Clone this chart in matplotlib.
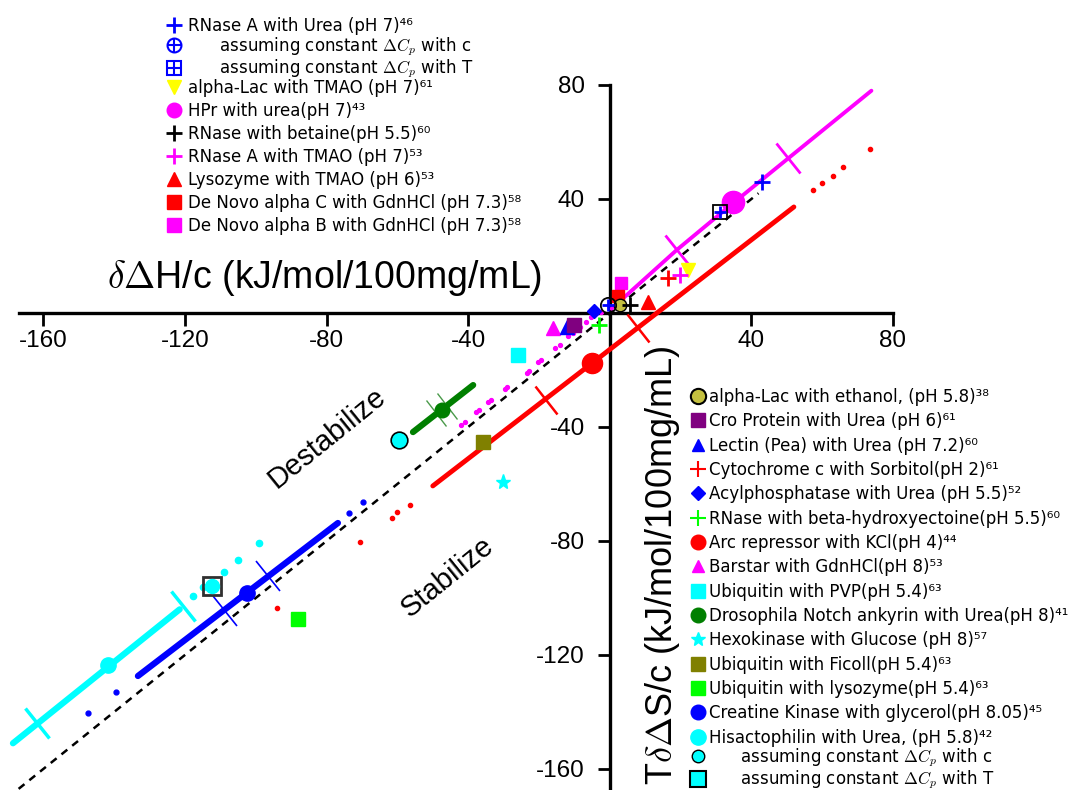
import matplotlib
matplotlib.use('Agg')
import matplotlib.pyplot as plt
from matplotlib.lines import Line2D
from matplotlib.markers import MarkerStyle
from matplotlib.transforms import Affine2D
from matplotlib.legend_handler import HandlerTuple

plt.rcParams['mathtext.fontset'] = 'cm'
plt.rcParams['axes.unicode_minus'] = False

# ---------------- data ----------------
x_ticks = [-160, -120, -80, -40, 40, 80]
y_ticks = [80, 40, -40, -80, -120, -160]

# reference line (dS = dH)
ref_x = [-167, 42]
ref_y = [-167, 42]

# HPr with urea (magenta)
hpr_line_x = [0.5, 18.9, 34.8, 73.9]
hpr_line_y = [1.5, 22.1, 38.5, 78.0]
hpr_dots_x = [-41.9, -40.8, -37.7, -36.9, -34.4, -33.6, -29.7, -28.9, -23.5, -22.7, -20.3, -19.5, -15.5, -14.2, -11.9, -10.4, -8.5, -6.8, -5.2, -2.5]
hpr_dots_y = [-39.3, -38.4, -34.6, -33.9, -31.1, -30.4, -26.8, -26.0, -21.2, -20.4, -17.2, -16.4, -12.3, -11.2, -8.1, -6.9, -4.9, -3.3, -1.3, 0.5]
hpr_pt = (34.8, 39.0)
hpr_err_x = [18.9, 50.3]
hpr_err_y = [22.1, 54.4]

# Arc repressor with KCl (red)
arc_line_x = [-50.0, -5.1, 52.0]
arc_line_y = [-60.7, -17.7, 37.2]
arc_dots_x = [57.3, 60.0, 63.0, 65.8, 73.4, -56.5, -60.0, -61.6, -70.6, -94.0]
arc_dots_y = [43.2, 45.6, 48.0, 51.2, 57.5, -67.4, -70.0, -72.0, -80.4, -103.5]
arc_pt = (-5.1, -17.5)
arc_err_x = [-18.0, 8.0]
arc_err_y = [-30.5, -5.3]

# Creatine kinase with glycerol (blue)
ck_line_x = [-133.3, -76.8]
ck_line_y = [-127.4, -73.7]
ck_dots_x = [-73.7, -69.8, -139.5, -147.4]
ck_dots_y = [-70.2, -66.3, -133.0, -140.4]
ck_pt = (-102.5, -98.2)
ck_err_x = [-96.6, -108.8]
ck_err_y = [-92.3, -104.5]

# Hisactophilin with urea (cyan)
his_line_x = [-168.6, -121.5]
his_line_y = [-151.0, -104.0]
his_dots_x = [-117.8, -115.0, -109.0, -105.0, -99.0]
his_dots_y = [-99.3, -96.0, -90.9, -86.7, -80.7]
his_pt = (-141.8, -123.5)
his_err_x = [-120.6, -161.7]
his_err_y = [-103.0, -144.0]
his_const_c = (-59.6, -44.6)
his_const_T = (-112.4, -95.8)

# Drosophila Notch ankyrin with urea (green)
dro_line_x = [-55.6, -38.6]
dro_line_y = [-41.8, -25.3]
dro_pt = (-47.5, -34.0)
dro_err_x = [-49.1, -46.1]
dro_err_y = [-35.2, -32.5]

# single points
rnase_urea = (43.0, 46.0)
rnase_const_c = (-0.5, 2.8)
rnase_const_T = (31.1, 35.5)
alac_tmao = (22.0, 15.0)
rnase_betaine = (5.6, 2.8)
rnase_tmao = (19.8, 13.3)
lyso_tmao = (10.7, 3.9)
denovo_c = (2.3, 6.0)
denovo_b = (3.3, 10.5)
alac_ethanol = (2.8, 2.8)
cro_urea = (-10.0, -4.2)
lectin_urea = (-12.0, -5.0)
cyto_sorbitol = (16.4, 12.3)
acyl_urea = (-4.6, 0.6)
rnase_ectoine = (-3.0, -4.3)
barstar = (-16.0, -5.3)
ubq_pvp = (-26.0, -14.7)
hexo_glucose = (-30.2, -59.3)
ubq_ficoll = (-35.9, -45.3)
ubq_lysozyme = (-88.1, -107.4)

legend1_labels = [
    "RNase A with Urea (pH 7)\u2074\u2076",
    "      assuming constant $\\Delta C_p$ with c",
    "      assuming constant $\\Delta C_p$ with T",
    "alpha-Lac with TMAO (pH 7)\u2076\u00b9",
    "HPr with urea(pH 7)\u2074\u00b3",
    "RNase with betaine(pH 5.5)\u2076\u2070",
    "RNase A with TMAO (pH 7)\u2075\u00b3",
    "Lysozyme with TMAO (pH 6)\u2075\u00b3",
    "De Novo alpha C with GdnHCl (pH 7.3)\u2075\u2078",
    "De Novo alpha B with GdnHCl (pH 7.3)\u2075\u2078",
]
legend2_labels = [
    "alpha-Lac with ethanol, (pH 5.8)\u00b3\u2078",
    "Cro Protein with Urea (pH 6)\u2076\u00b9",
    "Lectin (Pea) with Urea (pH 7.2)\u2076\u2070",
    "Cytochrome c with Sorbitol(pH 2)\u2076\u00b9",
    "Acylphosphatase with Urea (pH 5.5)\u2075\u00b2",
    "RNase with beta-hydroxyectoine(pH 5.5)\u2076\u2070",
    "Arc repressor with KCl(pH 4)\u2074\u2074",
    "Barstar with GdnHCl(pH 8)\u2075\u00b3",
    "Ubiquitin with PVP(pH 5.4)\u2076\u00b3",
    "Drosophila Notch ankyrin with Urea(pH 8)\u2074\u00b9",
    "Hexokinase with Glucose (pH 8)\u2075\u2077",
    "Ubiquitin with Ficoll(pH 5.4)\u2076\u00b3",
    "Ubiquitin with lysozyme(pH 5.4)\u2076\u00b3",
    "Creatine Kinase with glycerol(pH 8.05)\u2074\u2075",
    "Hisactophilin with Urea, (pH 5.8)\u2074\u00b2",
    "      assuming constant $\\Delta C_p$ with c",
    "      assuming constant $\\Delta C_p$ with T",
]

# ---------------- styling ----------------
MAG = '#ff00ff'; RED = '#ff0000'; BLU = '#0000ff'; CYA = '#00ffff'
GRN = '#007f00'; LIM = '#00ff00'; OLV = '#808000'; PUR = '#800080'
YEL = '#ffff00'; ALAC = '#c4c040'

W, H = 1072, 790
fig = plt.figure(figsize=(W / 100, H / 100), dpi=100)
ax_left_px, ax_right_px, ax_top_px = 8, 893, 85
ax = fig.add_axes([ax_left_px / W, 0, (ax_right_px - ax_left_px) / W, (H - ax_top_px) / H])
ax.set_xlim(-170, 80)
ax.set_ylim(-167.4, 80)

for s in ['top', 'right']:
    ax.spines[s].set_visible(False)
ax.spines['left'].set_position(('data', 0))
ax.spines['bottom'].set_position(('data', 0))
ax.spines['bottom'].set_bounds(-167, 80)
for s in ['left', 'bottom']:
    ax.spines[s].set_linewidth(2.4)
ax.set_xticks(x_ticks)
ax.set_yticks(y_ticks)
ax.tick_params(axis='both', direction='out', length=9, width=2, labelsize=17.5)
ax.tick_params(axis='x', pad=3)
ax.tick_params(axis='y', pad=9)
for lab in ax.get_xticklabels() + ax.get_yticklabels():
    lab.set_fontfamily('Liberation Sans')


def perp(angle=39):
    return MarkerStyle('|', transform=Affine2D().rotate_deg(angle))


# reference diagonal
ax.plot(ref_x, ref_y, color='black', lw=1.8, dashes=[3, 2.5], zorder=2)

# Hisactophilin
ax.plot(his_line_x, his_line_y, color=CYA, lw=4.5, solid_capstyle='round', zorder=3, clip_on=False)
ax.plot(his_dots_x, his_dots_y, 'o', color=CYA, ms=4.5, zorder=3)
ax.plot(his_err_x, his_err_y, ls='none', marker=perp(), ms=27, mew=2.5, mec=CYA, zorder=3)
ax.plot(*his_pt, 'o', color=CYA, ms=11, zorder=4)
ax.plot(*his_const_T, 's', mfc='none', mec='#303030', mew=2, ms=12.5, zorder=4)
ax.plot(*his_const_T, 'o', color=CYA, ms=10, zorder=4)
ax.plot(*his_const_c, 'o', mfc=CYA, mec='black', mew=1.2, ms=12, zorder=4)

# Creatine kinase
ax.plot(ck_line_x, ck_line_y, color=BLU, lw=4.5, solid_capstyle='round', zorder=3)
ax.plot(ck_dots_x, ck_dots_y, 'o', color=BLU, ms=3.5, zorder=3)
ax.plot(ck_err_x, ck_err_y, ls='none', marker=perp(), ms=27, mew=1.2, mec=BLU, zorder=3)
ax.plot(*ck_pt, 'o', color=BLU, ms=11, zorder=4)

# Arc repressor
ax.plot(arc_line_x, arc_line_y, color=RED, lw=3.5, solid_capstyle='round', zorder=3)
ax.plot(arc_dots_x, arc_dots_y, 'o', color=RED, ms=3, zorder=3)
ax.plot(arc_err_x, arc_err_y, ls='none', marker=perp(), ms=26, mew=1.8, mec=RED, zorder=3)
ax.plot(*arc_pt, 'o', color=RED, ms=14.5, zorder=4)

# Drosophila
ax.plot(dro_line_x, dro_line_y, color=GRN, lw=4.5, solid_capstyle='round', zorder=3)
ax.plot(dro_err_x, dro_err_y, ls='none', marker=perp(), ms=24, mew=1, mec='#4a9a4a', zorder=3)
ax.plot(*dro_pt, 'o', color=GRN, ms=10.5, zorder=4)

# HPr
ax.plot(hpr_line_x, hpr_line_y, color=MAG, lw=2.8, solid_capstyle='round', zorder=3)
ax.plot(hpr_dots_x, hpr_dots_y, 'o', color=MAG, ms=2.8, zorder=3)
ax.plot(hpr_err_x, hpr_err_y, ls='none', marker=perp(), ms=27, mew=2, mec=MAG, zorder=3)
ax.plot(*hpr_pt, 'o', color=MAG, ms=16, zorder=4)

# single-point series
ax.plot(*ubq_lysozyme, 's', color=LIM, ms=10.5, zorder=4)
ax.plot(*hexo_glucose, '*', color=CYA, ms=11, zorder=4)
ax.plot(*ubq_ficoll, 's', color=OLV, ms=10.5, zorder=4)
ax.plot(*ubq_pvp, 's', color=CYA, ms=9.5, zorder=4)
ax.plot(*barstar, '^', color=MAG, ms=9.5, zorder=4)
ax.plot(*lectin_urea, '^', color=BLU, ms=9.5, zorder=4)
ax.plot(*cro_urea, 's', color=PUR, ms=9.5, zorder=4)
ax.plot(*rnase_ectoine, '+', color=LIM, ms=11, mew=2, zorder=5)
ax.plot(*acyl_urea, 'D', color=BLU, ms=7.5, zorder=5)
ax.plot(*denovo_b, 's', color=MAG, ms=9, zorder=4)
ax.plot(*denovo_c, 's', color=RED, ms=9, zorder=4)
ax.plot(*alac_ethanol, 'o', mfc=ALAC, mec='black', mew=1, ms=9, zorder=5)
ax.plot(*rnase_const_c, 'o', mfc='none', mec='black', mew=1.3, ms=11, zorder=5)
ax.plot(*rnase_const_c, '+', color=BLU, ms=9, mew=2, zorder=5)
ax.plot(*rnase_betaine, '+', color='black', ms=11, mew=2, zorder=5)
ax.plot(*lyso_tmao, '^', color=RED, ms=10, zorder=4)
ax.plot(*cyto_sorbitol, '+', color=RED, ms=12, mew=2, zorder=5)
ax.plot(*rnase_tmao, '+', color=MAG, ms=12, mew=2, zorder=5)
ax.plot(*alac_tmao, 'v', color=YEL, ms=10, zorder=4)
ax.plot(*rnase_const_T, 's', mfc='none', mec='black', mew=1.3, ms=10, zorder=5)
ax.plot(*rnase_const_T, '+', color=BLU, ms=9, mew=2, zorder=5)
ax.plot(*rnase_urea, '+', color=BLU, ms=12, mew=2, zorder=5)

# axis labels & annotations
fig.text(325 / W, 1 - 278 / H, r'$\delta\Delta$H/c (kJ/mol/100mg/mL)', fontsize=27,
         family='Liberation Sans', ha='center', va='center')
fig.text(663 / W, 1 - 565 / H, r'T$\delta\Delta$S/c (kJ/mol/100mg/mL)', fontsize=26,
         family='Liberation Sans', ha='center', va='center', rotation=90)
fig.text(327 / W, 1 - 438 / H, 'Destabilize', fontsize=21, family='Liberation Sans',
         ha='center', va='center', rotation=39)
fig.text(447 / W, 1 - 577 / H, 'Stabilize', fontsize=21, family='Liberation Sans',
         ha='center', va='center', rotation=39)


# legends
def L(marker, color, ms=10, **kw):
    return Line2D([], [], ls='none', marker=marker, color=color, ms=ms, **kw)


h1 = [
    L('+', BLU, 11, mew=2),
    (L('o', BLU, 10, mfc='none', mew=1.5), L('+', BLU, 10, mew=1.5)),
    (L('s', BLU, 10, mfc='none', mew=1.5), L('+', BLU, 10, mew=1.5)),
    L('v', YEL, 10),
    L('o', MAG, 10.5),
    L('+', 'black', 11, mew=2),
    L('+', MAG, 11, mew=2),
    L('^', RED, 10),
    L('s', RED, 10),
    L('s', MAG, 10),
]
h2 = [
    L('o', ALAC, 11, mec='black', mew=1.5),
    L('s', PUR, 9.5),
    L('^', BLU, 9),
    L('+', RED, 11, mew=1.5),
    L('D', BLU, 7.5),
    L('+', LIM, 11, mew=1.5),
    L('o', RED, 10.5),
    L('^', MAG, 9),
    L('s', CYA, 9.5),
    L('o', GRN, 10.5),
    L('*', CYA, 10),
    L('s', OLV, 9.5),
    L('s', LIM, 9.5),
    L('o', BLU, 10.5),
    L('o', CYA, 11),
    L('o', CYA, 9, mec='black', mew=1),
    L('s', CYA, 11, mec='black', mew=1.5),
]

fs = 12
common = dict(frameon=False, handlelength=1.0, borderpad=0, borderaxespad=0,
              prop={'family': 'DejaVu Sans', 'size': fs}, loc='upper left')
fig.legend(h1[:3], legend1_labels[:3], bbox_to_anchor=(166 / W, 1 - 17 / H),
           handletextpad=0.3, labelspacing=0.0,
           handler_map={tuple: HandlerTuple(ndivide=1)}, **common)
fig.legend(h1[3:], legend1_labels[3:], bbox_to_anchor=(166 / W, 1 - 79 / H),
           handletextpad=0.3, labelspacing=0.3, **common)
fig.legend(h2[:15], legend2_labels[:15], bbox_to_anchor=(690 / W, 1 - 388 / H),
           handletextpad=0.15, labelspacing=0.38, **common)
fig.legend(h2[15:], legend2_labels[15:], bbox_to_anchor=(690 / W, 1 - 746 / H),
           handletextpad=0.15, labelspacing=0.0, **common)

fig.savefig('out.png', dpi=100)
